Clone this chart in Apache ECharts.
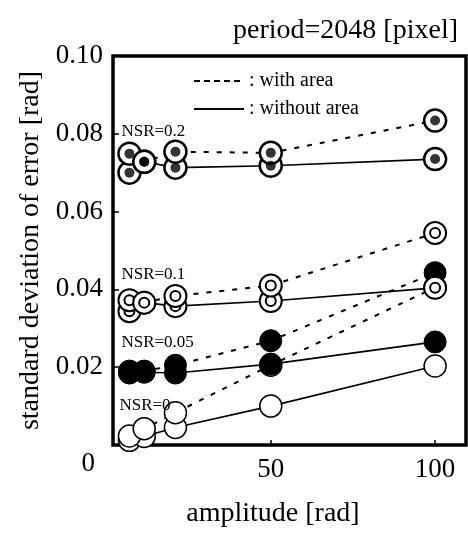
<!DOCTYPE html>
<html>
<head>
<meta charset="utf-8">
<script src="https://cdn.jsdelivr.net/npm/echarts@6/dist/echarts.min.js"></script>
<style>html,body{margin:0;padding:0;background:#fff}#c{width:468px;height:533px}</style>
</head>
<body>
<div id="c"></div>
<script>
// ---- data ----
var amplitude = [7, 11.5, 21, 50, 100];
var nsr0_with = [0.0023, 0.0042, 0.0083, 0.0205, 0.0405];
var nsr0_without = [0.0012, 0.0022, 0.0045, 0.0100, 0.0203];
var nsr005_with = [0.0190, 0.0190, 0.0205, 0.0268, 0.0443];
var nsr005_without = [0.0185, 0.0187, 0.0185, 0.0208, 0.0265];
var nsr01_with = [0.0372, 0.0366, 0.0383, 0.0410, 0.0545];
var nsr01_without = [0.0344, 0.0366, 0.0357, 0.0370, 0.0404];
var nsr02_with = [0.0749, 0.0728, 0.0754, 0.0751, 0.0834];
var nsr02_without = [0.0700, 0.0728, 0.0713, 0.0718, 0.0735];
var nsrNames = ['NSR=0', 'NSR=0.05', 'NSR=0.1', 'NSR=0.2'];
var xTicks = [50, 100];
var yTicks = [0, 0.02, 0.04, 0.06, 0.08, 0.10];

var FONT = "'Liberation Serif', 'Times New Roman', serif";
function pairs(ys) { return amplitude.map(function (x, i) { return [x, ys[i]]; }); }

var DOUBLE = 'path://M0,-11A11,11,0,1,1,0,11A11,11,0,1,1,0,-11ZM0,-5A5,5,0,1,1,0,5A5,5,0,1,1,0,-5Z';
var markerStyles = [
  { symbol: 'circle', itemStyle: { color: '#fff', borderColor: '#000', borderWidth: 1.5 } },
  { symbol: 'circle', itemStyle: { color: '#000', borderColor: '#000', borderWidth: 1 } },
  { symbol: DOUBLE, itemStyle: { color: '#fff', borderColor: '#000', borderWidth: 2 } },
  { symbol: 'circle', itemStyle: { color: '#fff', borderColor: '#000', borderWidth: 2.5 } }
];
var labelOffsets = [[-10, -31], [-8, -29], [-8, -26], [-8, -22]];
var groups = [
  [nsr0_with, nsr0_without],
  [nsr005_with, nsr005_without],
  [nsr01_with, nsr01_without],
  [nsr02_with, nsr02_without]
];

var series = [];
groups.forEach(function (g, k) {
  var ms = markerStyles[k];
  series.push({
    type: 'line', clip: false, symbol: ms.symbol, symbolSize: 22, showAllSymbol: true,
    itemStyle: ms.itemStyle,
    lineStyle: { color: '#000', width: 1.6, type: 'solid' },
    data: pairs(g[1]), silent: true
  });
  var d = pairs(g[0]).map(function (p, i) {
    if (i !== 0) return p;
    return {
      value: p,
      label: {
        show: true, position: 'inside', align: 'left', verticalAlign: 'middle',
        offset: labelOffsets[k], formatter: nsrNames[k],
        fontFamily: FONT, fontSize: 17, color: '#000'
      }
    };
  });
  series.push({
    type: 'line', clip: false, symbol: ms.symbol, symbolSize: 22, showAllSymbol: true,
    itemStyle: ms.itemStyle,
    lineStyle: { color: '#000', width: 2, type: [5, 8] },
    data: d, silent: true
  });
});
// inner dots of NSR=0.2 markers
[nsr02_without, nsr02_with].forEach(function (ys) {
  series.push({
    type: 'scatter', symbol: 'circle', symbolSize: 10, clip: false, silent: true, z: 5,
    itemStyle: { color: '#000' }, data: pairs(ys)
  });
});
// legend-only series
series.push({ name: 'with area', type: 'line', symbol: 'none', data: [],
  lineStyle: { color: '#000', width: 2, type: [6, 4] }, itemStyle: { color: 'rgba(0,0,0,0)' } });
series.push({ name: 'without area', type: 'line', symbol: 'none', data: [],
  lineStyle: { color: '#000', width: 2.5, type: 'solid' }, itemStyle: { color: 'rgba(0,0,0,0)' } });

var chart = echarts.init(document.getElementById('c'), null, { renderer: 'canvas' });
chart.setOption({
  animation: false,
  backgroundColor: '#fff',
  title: {
    text: 'period=2048 [pixel]', right: 10, top: 17, padding: 0,
    textStyle: { fontFamily: FONT, fontSize: 28, fontWeight: 'normal', color: '#000' }
  },
  legend: {
    data: ['with area', 'without area'], orient: 'vertical', left: 193, top: 71, padding: 0,
    itemWidth: 50, itemHeight: 14, itemGap: 8, selectedMode: false,
    itemStyle: { color: 'rgba(0,0,0,0)', borderColor: 'rgba(0,0,0,0)', borderWidth: 0 },
    formatter: function (n) { return ': ' + n; },
    textStyle: { fontFamily: FONT, fontSize: 20, color: '#000' }
  },
  grid: {
    left: 113, right: 2, top: 56, bottom: 87, show: true,
    borderColor: '#000', borderWidth: 3.5, backgroundColor: 'transparent'
  },
  xAxis: {
    type: 'value', min: 2, max: 109.4,
    name: 'amplitude [rad]', nameLocation: 'middle', nameGap: 55,
    nameTextStyle: { fontFamily: FONT, fontSize: 28, color: '#000', padding: [0, 33, 0, 0] },
    axisLine: { show: false },
    axisTick: { show: true, inside: true, length: 5, customValues: xTicks, lineStyle: { color: '#000', width: 1.5 } },
    axisLabel: { customValues: xTicks, margin: 11, fontFamily: FONT, fontSize: 27, color: '#000' },
    splitLine: { show: false }
  },
  yAxis: {
    type: 'value', min: 0, max: 0.1, interval: 0.02,
    name: 'standard deviation of error [rad]', nameLocation: 'middle', nameGap: 62, nameRotate: 90,
    nameTextStyle: { fontFamily: FONT, fontSize: 28, color: '#000' },
    axisLine: { show: false },
    axisTick: { show: true, inside: true, length: 6, customValues: yTicks, lineStyle: { color: '#000', width: 1.5 } },
    axisLabel: {
      customValues: yTicks, margin: 10, fontFamily: FONT, fontSize: 27, color: '#000',
      formatter: function (v) { return v === 0 ? '{z|0}' : v.toFixed(2); },
      rich: { z: { fontFamily: FONT, fontSize: 27, color: '#000', padding: [38, 8, 0, 0] } }
    },
    splitLine: { show: false }
  },
  series: series
});
</script>
</body>
</html>
